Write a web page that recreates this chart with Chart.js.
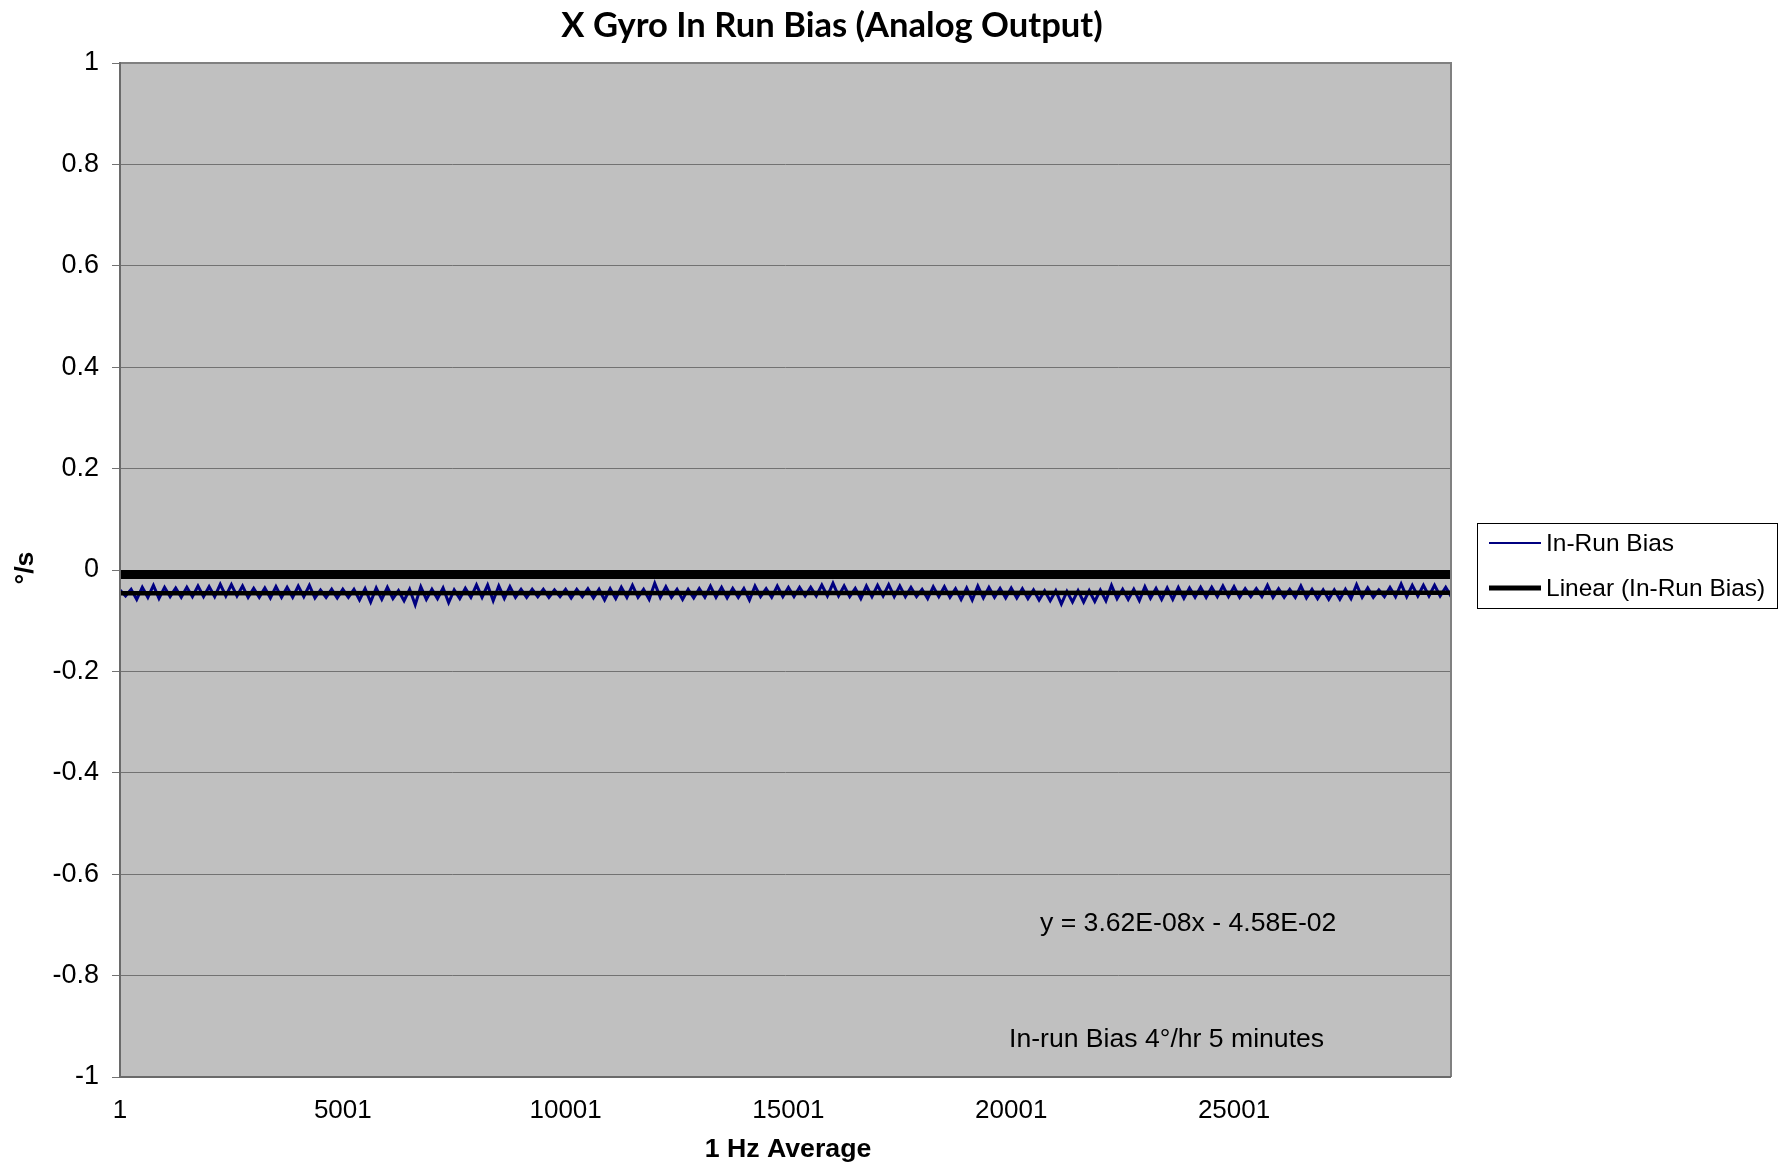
<!DOCTYPE html>
<html><head><meta charset="utf-8">
<script src="https://cdn.jsdelivr.net/npm/chart.js@4.4.1/dist/chart.umd.min.js"></script>
<style>html,body{margin:0;padding:0;background:#fff;overflow:hidden}#wrap{width:1780px;height:1166px;position:relative}</style>
</head><body><div id="wrap"><canvas id="c" width="1780" height="1166"></canvas></div>
<script>
// ---------- DATA ----------
const chartTitle = 'X Gyro In Run Bias (Analog Output)';
const xAxisTitle = '1 Hz Average';
const yAxisTitle = '°/s';
const seriesNames = ['In-Run Bias', 'Linear (In-Run Bias)'];
const xTickValues = [1, 5001, 10001, 15001, 20001, 25001];
const yTickValues = [-1, -0.8, -0.6, -0.4, -0.2, 0, 0.2, 0.4, 0.6, 0.8, 1];
const yTickLabels = ['-1', '-0.8', '-0.6', '-0.4', '-0.2', '0', '0.2', '0.4', '0.6', '0.8', '1'];
const xFirst = 1;
const xLast = 29870;
const sampleStep = 250;
// local maxima of each 250-sample block
const biasUpper = [
 -0.0394,-0.0381,-0.0342,-0.0302,-0.0342,-0.0355,-0.0342,-0.0316,-0.0329,-0.0283,
 -0.0289,-0.0316,-0.0362,-0.0355,-0.0329,-0.0342,-0.0316,-0.0302,-0.0394,-0.0381,
 -0.0381,-0.0381,-0.0368,-0.0355,-0.0342,-0.0408,-0.0381,-0.0329,-0.0381,-0.0355,
 -0.0394,
 -0.0362,-0.0296,-0.0296,-0.0316,-0.0329,-0.0381,-0.0381,-0.0381,-0.0394,-0.0381,
 -0.0381,-0.0368,-0.0381,-0.0368,-0.0342,-0.0302,-0.0381,-0.0263,-0.0329,-0.0381,
 -0.0381,-0.0368,-0.0316,-0.0342,-0.0362,-0.0368,-0.0316,-0.0368,-0.0316,-0.0342,
 -0.0342,-0.0342,-0.0296,-0.0263,-0.0316,-0.0362,-0.0316,-0.0302,-0.0289,-0.0316,
 -0.0342,-0.0381,-0.0329,-0.0329,-0.0368,-0.0355,-0.0316,-0.0342,-0.0362,-0.0355,
 -0.0368,-0.0394,-0.0408,-0.0408,-0.0421,-0.0408,-0.0408,-0.0394,-0.0302,-0.0381,
 -0.0381,-0.0329,-0.0362,-0.0355,-0.0342,-0.0355,-0.0342,-0.0342,-0.0316,-0.0329,
 -0.0368,-0.0368,-0.0302,-0.0368,-0.0381,-0.0316,-0.0381,-0.0394,-0.0394,-0.0381,
 -0.0289,-0.0355,-0.0394,-0.0342,-0.0276,-0.0302,-0.0302,-0.0302,-0.0342
];
// local minima of each 250-sample block
const biasLower = [
 -0.0513,-0.0579,-0.0539,-0.0559,-0.0526,-0.0539,-0.0526,-0.0526,-0.0526,-0.0513,
 -0.0513,-0.0539,-0.0539,-0.0552,-0.0539,-0.0539,-0.0526,-0.0552,-0.0539,-0.0552,
 -0.0539,-0.0592,-0.0631,-0.0579,-0.0565,-0.0605,-0.0684,-0.0579,-0.0565,-0.0644,
 -0.0565,
 -0.0539,-0.0539,-0.0605,-0.0559,-0.0539,-0.0539,-0.0526,-0.0539,-0.0526,-0.0552,
 -0.0526,-0.0552,-0.0592,-0.0565,-0.0539,-0.0539,-0.0579,-0.0539,-0.0539,-0.0579,
 -0.0552,-0.0539,-0.0539,-0.0552,-0.0539,-0.0592,-0.0526,-0.0539,-0.0526,-0.0526,
 -0.0513,-0.0513,-0.0513,-0.0513,-0.0526,-0.0565,-0.0526,-0.0513,-0.0526,-0.0526,
 -0.0526,-0.0565,-0.0526,-0.0539,-0.0579,-0.0592,-0.0552,-0.0539,-0.0552,-0.0552,
 -0.0565,-0.0592,-0.0605,-0.0671,-0.0631,-0.0631,-0.0618,-0.0605,-0.0565,-0.0579,
 -0.0605,-0.0559,-0.0579,-0.0579,-0.0559,-0.0539,-0.0539,-0.0526,-0.0526,-0.0539,
 -0.0526,-0.0526,-0.0539,-0.0539,-0.0539,-0.0552,-0.0565,-0.0579,-0.0579,-0.0565,
 -0.0539,-0.0539,-0.0526,-0.0526,-0.0526,-0.0513,-0.0513,-0.0513,-0.0526
];
const trendSlope = 3.62e-8;
const trendIntercept = -4.58e-2;
const trendEquation = 'y = 3.62E-08x - 4.58E-02';
const noteText = 'In-run Bias 4°/hr 5 minutes';
const axisBarValue = -0.009;

// ---------- BUILD ----------
const biasPoints = [];
for (let k = 0; k < biasUpper.length; k++) {
  biasPoints.push({x: xFirst + k * sampleStep, y: biasUpper[k]});
  biasPoints.push({x: xFirst + k * sampleStep + sampleStep / 2, y: biasLower[k]});
}
const trendPoints = [xFirst, xLast].map(x => ({x, y: trendSlope * x + trendIntercept}));
const barPoints = [xFirst, xLast].map(x => ({x, y: axisBarValue}));

const FONT = "'Liberation Sans', Arial, sans-serif";

const decor = {
  id: 'decor',
  beforeDraw(chart) {
    const {ctx, chartArea: a} = chart;
    ctx.save();
    ctx.fillStyle = '#c0c0c0';
    ctx.fillRect(a.left, a.top, a.right - a.left, a.bottom - a.top);
    ctx.restore();
  },
  afterDraw(chart) {
    const {ctx, chartArea: a} = chart;
    ctx.save();
    // plot frame
    ctx.strokeStyle = '#808080';
    ctx.lineWidth = 2;
    ctx.beginPath();
    ctx.moveTo(a.left, a.top); ctx.lineTo(a.right, a.top); ctx.lineTo(a.right, a.bottom);
    ctx.stroke();
    ctx.strokeStyle = '#6a6a6a';
    ctx.beginPath();
    ctx.moveTo(a.left, a.top - 1); ctx.lineTo(a.left, a.bottom); ctx.lineTo(a.right, a.bottom);
    ctx.stroke();
    // title
    ctx.fillStyle = '#000';
    ctx.textAlign = 'center';
    ctx.textBaseline = 'middle';
    ctx.font = "bold 100px Lato, 'Open Sans', sans-serif";
    const tw = ctx.measureText(chartTitle).width;
    const ts = 100 * 541 / tw;
    ctx.font = "bold " + ts.toFixed(1) + "px Lato, 'Open Sans', sans-serif";
    ctx.fillText(chartTitle, 832, 26);
    // axis titles
    ctx.font = "bold 26.7px " + FONT;
    ctx.fillText(xAxisTitle, 788, 1150);
    ctx.save();
    ctx.translate(26, 568);
    ctx.rotate(-Math.PI / 2);
    ctx.fillText(yAxisTitle, 0, 0);
    ctx.restore();
    // annotations
    ctx.textAlign = 'left';
    ctx.font = "26.6px " + FONT;
    ctx.fillText(trendEquation, 1040, 924);
    ctx.fillText(noteText, 1009, 1040);
    // legend
    ctx.strokeStyle = '#000';
    ctx.lineWidth = 1;
    ctx.strokeRect(1477.5, 523.5, 300, 85);
    ctx.strokeStyle = '#000080';
    ctx.lineWidth = 2;
    ctx.beginPath(); ctx.moveTo(1489, 543); ctx.lineTo(1541, 543); ctx.stroke();
    ctx.strokeStyle = '#000';
    ctx.lineWidth = 5;
    ctx.beginPath(); ctx.moveTo(1489, 588); ctx.lineTo(1541, 588); ctx.stroke();
    ctx.font = "24.5px " + FONT;
    ctx.fillText(seriesNames[0], 1546, 544);
    ctx.fillText(seriesNames[1], 1546, 589);
    ctx.restore();
  }
};

new Chart(document.getElementById('c'), {
  type: 'line',
  data: {
    datasets: [
      {label: seriesNames[1], data: trendPoints, borderColor: '#000', borderWidth: 4.5, pointRadius: 0, order: 0},
      {label: seriesNames[0], data: biasPoints, borderColor: '#000080', borderWidth: 3, pointRadius: 0, tension: 0, order: 1},
      {label: 'axis', data: barPoints, borderColor: '#000', borderWidth: 9, pointRadius: 0, order: 2}
    ]
  },
  options: {
    responsive: false,
    animation: false,
    devicePixelRatio: 1,
    layout: {padding: {left: 0, top: 63, right: 329, bottom: 0}},
    plugins: {legend: {display: false}, title: {display: false}, tooltip: {enabled: false}},
    scales: {
      x: {
        type: 'linear', min: xFirst, max: xLast,
        afterBuildTicks: s => { s.ticks = xTickValues.map(v => ({value: v})); },
        afterFit: s => { s.height = 89; },
        grid: {display: false, drawTicks: false},
        border: {display: false},
        ticks: {font: {family: FONT, size: 26}, color: '#000', padding: 18, maxRotation: 0, autoSkip: false,
                callback: v => String(v)}
      },
      y: {
        min: -1, max: 1,
        afterBuildTicks: s => { s.ticks = yTickValues.map(v => ({value: v})); },
        afterFit: s => { s.width = 120; },
        grid: {color: '#727272', lineWidth: 1, tickLength: 8, drawTicks: true},
        border: {display: false},
        ticks: {font: {family: FONT, size: 27}, color: '#000', padding: 13,
                callback: v => yTickLabels[yTickValues.indexOf(v)]}
      }
    }
  },
  plugins: [decor]
});
</script>
</body></html>
